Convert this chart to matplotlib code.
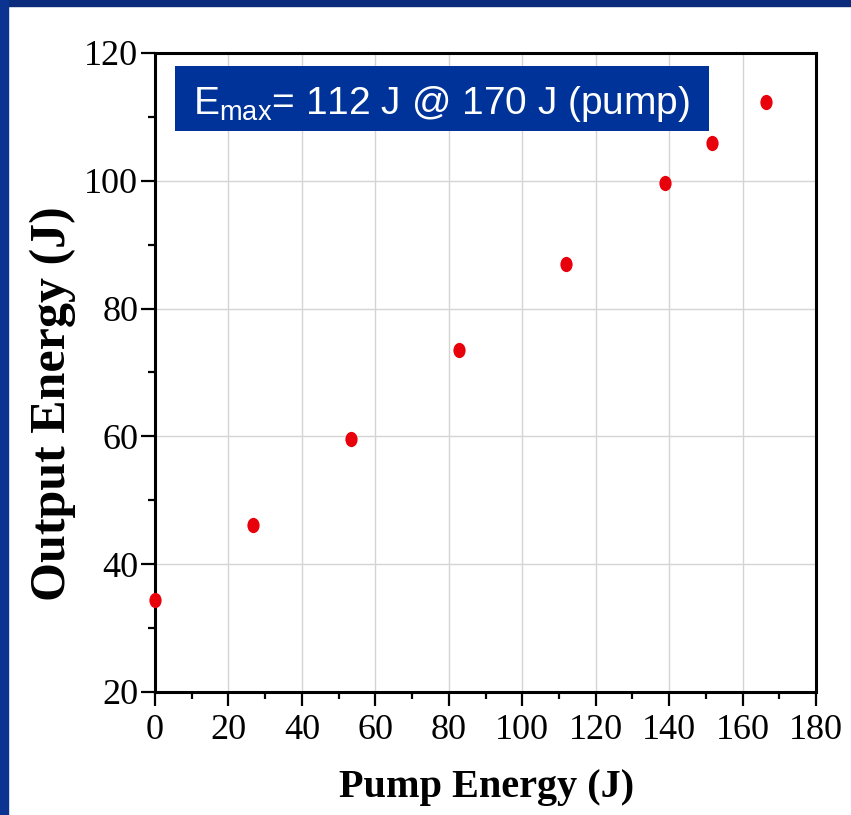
import matplotlib.pyplot as plt
from matplotlib.patches import Rectangle
from matplotlib.path import Path
from matplotlib.transforms import Affine2D
from matplotlib.ticker import MultipleLocator

# Data
pump_energy = [0, 26.7, 53.4, 82.8, 111.9, 138.9, 151.7, 166.4]
output_energy = [34.4, 46.1, 59.6, 73.5, 87.0, 99.7, 105.9, 112.3]

x_ticks = [0, 20, 40, 60, 80, 100, 120, 140, 160, 180]
y_ticks = [20, 40, 60, 80, 100, 120]

W, H = 851, 815
fig = plt.figure(figsize=(W / 100, H / 100), dpi=100)
fig.patch.set_facecolor('white')

# dark blue slide frame (top and left)
fig.patches.append(Rectangle((0, 1 - 6 / H), 1, 6 / H, transform=fig.transFigure,
                             color='#0b2c7c', zorder=0))
fig.patches.append(Rectangle((0, 0), 8 / W, 1, transform=fig.transFigure,
                             color='#0b3390', zorder=0))

ax = fig.add_axes([155 / W, 1 - 692 / H, (816 - 155) / W, (692 - 53) / H])

# slightly tall elliptical dots like the original
oval = Path.unit_circle().transformed(Affine2D().scale(0.8, 1.0))
ax.plot(pump_energy, output_energy, linestyle='none', marker=oval,
        color='#e8000b', markersize=11, markeredgewidth=0,
        clip_on=False, zorder=5)

ax.set_xlim(0, 180)
ax.set_ylim(20, 120)
ax.set_xticks(x_ticks)
ax.set_yticks(y_ticks)
ax.xaxis.set_minor_locator(MultipleLocator(10))
ax.yaxis.set_minor_locator(MultipleLocator(10))
ax.grid(True, which='major', color='#d4d4d4', linewidth=1)
ax.set_axisbelow(True)

for s in ax.spines.values():
    s.set_linewidth(2.2)
ax.tick_params(which='major', direction='out', length=10, width=1.6,
               top=False, right=False, labelsize=26)
ax.tick_params(axis='x', which='major', pad=6)
ax.tick_params(axis='y', which='major', pad=2)
ax.tick_params(which='minor', direction='out', length=5, width=1.6,
               top=False, right=False)
for lbl in ax.get_xticklabels() + ax.get_yticklabels():
    lbl.set_fontfamily('Liberation Serif')

ax.set_xlabel('Pump Energy (J)', fontfamily='Liberation Serif',
              fontweight='bold', fontsize=29)
ax.xaxis.label.set_va('baseline')
ax.xaxis.set_label_coords(0.5015, (692 - 797) / 639)

ax.set_ylabel('Output Energy (J)', fontfamily='Liberation Serif',
              fontweight='bold', fontsize=36)
ax.yaxis.label.set_va('baseline')
ax.yaxis.set_label_coords((65 - 155) / 661, (692 - 403.5) / 639)

# annotation box
ax.add_patch(Rectangle((0.030, 0.878), 0.808, 0.102, transform=ax.transAxes,
                       facecolor='#003399', edgecolor='none', zorder=6))
ax.text(0.0575, (692 - 114) / 639,
        r'E$_{\mathregular{max}}$= 112 J @ 170 J (pump)',
        transform=ax.transAxes, ha='left', va='baseline', color='white',
        fontsize=28, fontfamily='Liberation Sans', zorder=7)

fig.savefig('out.png', dpi=100)
